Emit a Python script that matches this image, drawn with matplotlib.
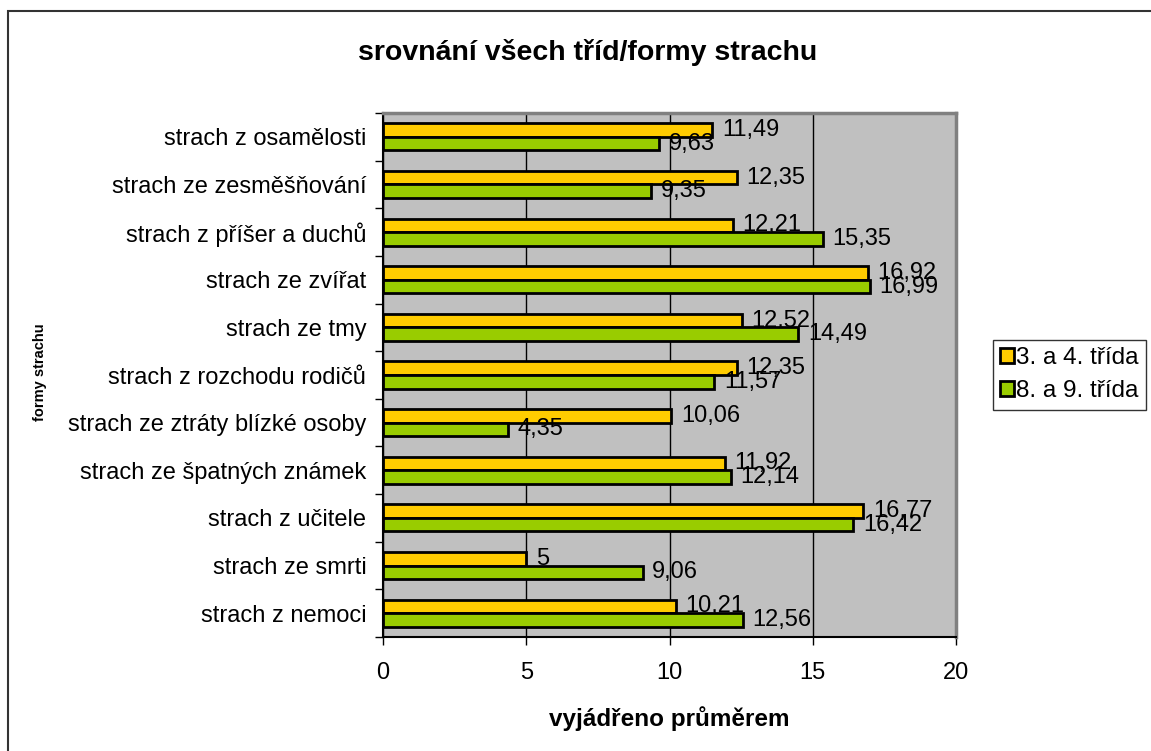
import numpy as np
import matplotlib.pyplot as plt
from matplotlib.patches import Rectangle

plt.rcParams['font.family'] = ['Liberation Sans', 'DejaVu Sans']

# categories, bottom to top
categories = ['strach z nemoci', 'strach ze smrti', 'strach z učitele',
              'strach ze špatných známek', 'strach ze ztráty blízké osoby',
              'strach z rozchodu rodičů', 'strach ze tmy', 'strach ze zvířat',
              'strach z příšer a duchů', 'strach ze zesměšňování',
              'strach z osamělosti']
trida_34 = [10.21, 5, 16.77, 11.92, 10.06, 12.35, 12.52, 16.92, 12.21, 12.35, 11.49]
trida_89 = [12.56, 9.06, 16.42, 12.14, 4.35, 11.57, 14.49, 16.99, 15.35, 9.35, 9.63]
series_names = ['3. a 4. třída', '8. a 9. třída']
xticks = [0, 5, 10, 15, 20]

W, H = 1151, 751
fig = plt.figure(figsize=(W / 100, H / 100), dpi=100)
ax = fig.add_axes([383 / W, 1 - 637 / H, (956 - 383) / W, (637 - 113) / H])
ax.set_facecolor('#C0C0C0')

# outer chart border
fig.patches.append(Rectangle((8 / W, -0.1), 1.2, 1 - 11 / H + 0.1, transform=fig.transFigure,
                             fill=False, edgecolor='#333333', linewidth=1.5))

y = np.arange(len(categories))
bh = 0.285
lab_font = 17

b1 = ax.barh(y + bh / 2, trida_34, height=bh, color='#FFCC00', edgecolor='black',
             linewidth=2, zorder=3, label=series_names[0])
for yi, v in zip(y, trida_34):
    ax.annotate(f'{v:g}'.replace('.', ','), (v, yi + bh / 2), xytext=(7, 0),
                textcoords='offset points', va='center', ha='left',
                fontsize=lab_font, zorder=4)
b2 = ax.barh(y - bh / 2, trida_89, height=bh, color='#99CC00', edgecolor='black',
             linewidth=2, zorder=5, label=series_names[1])
for yi, v in zip(y, trida_89):
    ax.annotate(f'{v:g}'.replace('.', ','), (v, yi - bh / 2), xytext=(7, 0),
                textcoords='offset points', va='center', ha='left',
                fontsize=lab_font, zorder=6)

ax.set_xlim(0, 20)
ax.set_ylim(-0.5, len(categories) - 0.5)
ax.set_xticks(xticks)
ax.set_xticklabels([str(t) for t in xticks], fontsize=17)
ax.set_yticks(y)
ax.set_yticklabels(categories, fontsize=17)
ax.set_yticks(np.arange(-0.5, len(categories), 1), minor=True)
ax.tick_params(axis='y', which='major', length=0, pad=12)
ax.tick_params(axis='y', which='minor', length=6, width=1, direction='out')
ax.tick_params(axis='x', length=6, width=1, direction='out', pad=12)
ax.xaxis.grid(True, color='black', linewidth=1, zorder=1)
ax.set_axisbelow(True)

for side in ['top', 'right']:
    ax.spines[side].set_color('#808080')
    ax.spines[side].set_linewidth(2.5)
for side in ['left', 'bottom']:
    ax.spines[side].set_color('black')
    ax.spines[side].set_linewidth(1.5)

ax.set_xlabel('vyjádřeno průměrem', fontsize=17.5, fontweight='bold', labelpad=16)
fig.text(40 / W, 1 - 372 / H, 'formy strachu', rotation=90, fontsize=10.5,
         fontweight='bold', ha='center', va='center')
fig.text(588 / W, 1 - 52 / H, 'srovnání všech tříd/formy strachu', fontsize=20.5,
         fontweight='bold', ha='center', va='center')

leg = fig.legend(handles=[b1, b2], loc='upper left', bbox_to_anchor=(993 / W, 1 - 340 / H),
                 fontsize=17.5, frameon=True, fancybox=False, edgecolor='black',
                 handlelength=0.55, handleheight=0.55, handletextpad=0.1,
                 borderpad=0.3, labelspacing=0.45, borderaxespad=0)
leg.get_frame().set_linewidth(1)

fig.savefig('out.png', dpi=100)
